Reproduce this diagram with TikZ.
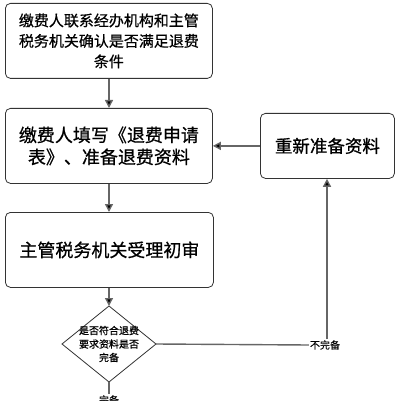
\documentclass[tikz,border=0pt]{standalone}
\usepackage{fontspec}
\setmainfont{Noto Sans CJK SC}[FakeBold=0.6]
\usetikzlibrary{arrows.meta}
\tikzset{
  box/.style={draw=black!80, line width=0.8pt, rounded corners=5pt, fill=white},
  conn/.style={draw=black!60, line width=1.4pt},
  arr/.style={conn, -{Triangle[length=8pt,width=8pt,fill=black]}},
  lab/.style={font=\fontsize{10}{12}\selectfont, fill=white, inner sep=1pt},
}
\begin{document}
\begin{tikzpicture}[x=1pt,y=-1pt]
\useasboundingbox (0,0) rectangle (401,401);
\node[box, minimum width=207pt, minimum height=75pt, anchor=north west, align=center,
  font=\fontsize{15}{20.5}\selectfont] (b1) at (5,3) {缴费人联系经办机构和主管\\税务机关确认是否满足退费\\条件};
\node[box, minimum width=207pt, minimum height=75pt, anchor=north west, align=center,
  font=\fontsize{18}{22}\selectfont] (b2) at (5,108) {缴费人填写《退费申请\\表》、准备退费资料};
\node[box, minimum width=208pt, minimum height=75pt, anchor=north west,
  font=\fontsize{18}{22}\selectfont] (b3) at (5,212) {主管税务机关受理初审};
\node[box, minimum width=134pt, minimum height=65pt, anchor=north west,
  font=\fontsize{17.5}{22}\selectfont] (b4) at (260,113) {重新准备资料};
\coordinate (dn) at (109,306);
\coordinate (de) at (156,344);
\coordinate (ds) at (109,382);
\coordinate (dw) at (62,344);
\draw[draw=black!80, line width=0.8pt, fill=white] (dn) -- (de) -- (ds) -- (dw) -- cycle;
\node[align=center, inner sep=0pt, font=\fontsize{10}{13.5}\selectfont] (d) at (109,344) {是否符合退费\\要求资料是否\\完备};
\node[lab] (nw) at (325,345) {不完备};
\node[lab] (ok) at (109,400) {完备};
\draw[arr] (b1.south -| 109,0) -- (b2.north -| 109,0);
\draw[arr] (b2.south -| 109,0) -- (b3.north -| 109,0);
\draw[arr] (b3.south -| 109,0) -- (dn);
\draw[conn] (de) -- (nw.west);
\draw[arr] (nw.north -| 327,0) -- (b4.south -| 327,0);
\draw[arr] (b4.west) -- (b2.east |- b4.west);
\draw[conn] (ds) -- (ok.north);
\end{tikzpicture}
\end{document}
